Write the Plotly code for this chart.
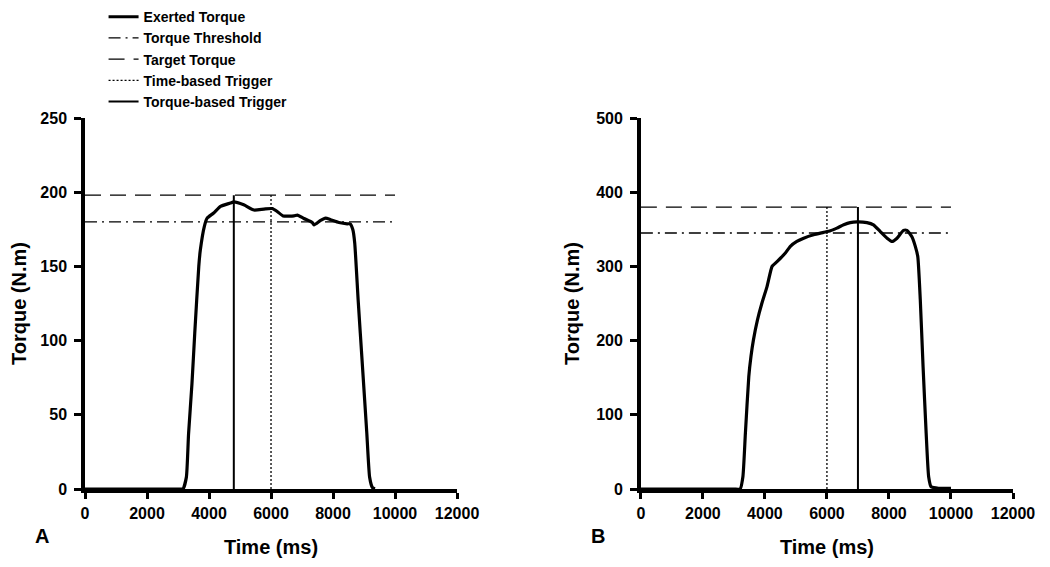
import plotly.graph_objects as go

# Panel A: exerted torque trace (ms, N.m)
time_a = [0, 1000, 2000, 3000, 3160, 3270, 3340, 3450, 3540, 3670, 3720, 3850, 3940,
          4150, 4370, 4690, 4800, 5120, 5450, 5770, 6040, 6200, 6390, 6740, 6850,
          7060, 7330, 7390, 7600, 7760, 7920, 8190, 8460, 8550, 8640, 8700, 8810,
          8950, 9090, 9180, 9270, 9350]
torque_a = [0, 0, 0, 0, 0, 8, 37, 71, 105, 150, 161, 177, 182.5,
            186, 190.5, 192.7, 193.5, 191.5, 188, 188.6, 189, 187, 184, 184, 184.6,
            182.3, 179.6, 178, 181, 182.5, 181.5, 179.6, 178.7, 178.7, 174.7, 165.7, 127.5,
            82.5, 37.5, 8, 1, 0]

# Panel B: exerted torque trace (ms, N.m)
time_b = [0, 1000, 2000, 3000, 3200, 3290, 3370, 3480, 3550, 3630, 3760, 3900, 4070,
          4230, 4330, 4500, 4660, 4820, 5030, 5250, 5570, 5890, 6110, 6320, 6540,
          6750, 6970, 7290, 7500, 7720, 7940, 8100, 8260, 8470, 8580, 8740, 8850,
          8930, 9010, 9100, 9200, 9280, 9360, 9600, 10000]
torque_b = [0, 0, 0, 0, 0, 16.6, 75, 151.5, 178.5, 201, 228, 250, 273,
            300, 304, 311, 318, 327, 333.6, 338, 342.6, 345.8, 348, 351.6, 356,
            359, 360, 359, 356, 347, 338, 333.6, 338, 348.5, 348.5, 340, 327,
            313, 255, 165, 75, 16.6, 3, 1, 1]

# Reference levels and trigger times
target_a, threshold_a = 198, 180
target_b, threshold_b = 380, 345
level_span = [0, 10000]
time_trigger_a, torque_trigger_a = 6000, 4800
time_trigger_b, torque_trigger_b = 6000, 7000

x_ticks = [0, 2000, 4000, 6000, 8000, 10000, 12000]
y_ticks_a = [0, 50, 100, 150, 200, 250]
y_ticks_b = [0, 100, 200, 300, 400, 500]

FONT = "Arial, Liberation Sans, sans-serif"

fig = go.Figure()


def add_panel(xa, ya, t, tq, target, threshold, t_trig, tq_trig, show):
    fig.add_trace(go.Scatter(x=t, y=tq, mode="lines", name="Exerted Torque",
                             line=dict(color="black", width=3.2, shape="spline", smoothing=0.5),
                             xaxis=xa, yaxis=ya, showlegend=show, legendgroup="et"))
    fig.add_trace(go.Scatter(x=level_span, y=[threshold, threshold], mode="lines",
                             name="Torque Threshold",
                             line=dict(color="black", width=1.3, dash="12px,5px,2px,5px"),
                             xaxis=xa, yaxis=ya, showlegend=show, legendgroup="th"))
    fig.add_trace(go.Scatter(x=level_span, y=[target, target], mode="lines",
                             name="Target Torque",
                             line=dict(color="black", width=1.3, dash="16px,9px"),
                             xaxis=xa, yaxis=ya, showlegend=show, legendgroup="tt"))
    fig.add_trace(go.Scatter(x=[t_trig, t_trig], y=[0, target], mode="lines",
                             name="Time-based Trigger",
                             line=dict(color="black", width=1.3, dash="2px,2px"),
                             xaxis=xa, yaxis=ya, showlegend=show, legendgroup="tb"))
    fig.add_trace(go.Scatter(x=[tq_trig, tq_trig], y=[0, target], mode="lines",
                             name="Torque-based Trigger",
                             line=dict(color="black", width=2),
                             xaxis=xa, yaxis=ya, showlegend=show, legendgroup="qb"))


add_panel("x", "y", time_a, torque_a, target_a, threshold_a,
          time_trigger_a, torque_trigger_a, True)
add_panel("x2", "y2", time_b, torque_b, target_b, threshold_b,
          time_trigger_b, torque_trigger_b, False)

tickfont = dict(family=FONT, size=16, color="black", weight="bold")
titlefont = dict(family=FONT, size=20, color="black", weight="bold")

xcommon = dict(range=[0, 12000], tickvals=x_ticks, ticktext=[str(v) for v in x_ticks],
               showgrid=False, zeroline=False,
               showline=True, linecolor="black", linewidth=3.5, ticks="outside",
               ticklen=6, tickwidth=3, tickcolor="black", tickfont=tickfont,
               ticklabelstandoff=1,
               title=dict(text="Time (ms)", font=titlefont, standoff=20))


def ycommon(rng, vals):
    return dict(range=rng, tickvals=vals, ticktext=[str(v) for v in vals],
                showgrid=False, zeroline=False,
                showline=True, linecolor="black", linewidth=3.5, ticks="outside",
                ticklen=7, tickwidth=3, tickcolor="black", tickfont=tickfont,
                ticklabelstandoff=4,
                title=dict(text="Torque (N.m)", font=titlefont, standoff=12))


# page body has an 8px margin, so the figure is 8px smaller than the window
fig.update_layout(
    width=1042, height=559,
    margin=dict(l=77, r=37, t=110, b=78, autoexpand=False),
    paper_bgcolor="white", plot_bgcolor="white",
    xaxis=dict(domain=[0, 0.4009], anchor="y", **xcommon),
    yaxis=dict(domain=[0, 1], anchor="x", **ycommon([0, 250], y_ticks_a)),
    xaxis2=dict(domain=[0.599, 1.0], anchor="y2", **xcommon),
    yaxis2=dict(domain=[0, 1], anchor="x2", **ycommon([0, 500], y_ticks_b)),
    legend=dict(x=0.02, y=1.315, xanchor="left", yanchor="top", tracegroupgap=0,
                font=dict(family=FONT, size=14, color="black", weight="bold"),
                bgcolor="rgba(0,0,0,0)"),
    showlegend=True,
)

fig.add_annotation(text="A", x=-0.0463, y=-0.1267, xref="paper", yref="paper",
                   xanchor="center", yanchor="middle", showarrow=False, font=titlefont)
fig.add_annotation(text="B", x=0.5528, y=-0.1267, xref="paper", yref="paper",
                   xanchor="center", yanchor="middle", showarrow=False, font=titlefont)

fig.write_html("out.html")
